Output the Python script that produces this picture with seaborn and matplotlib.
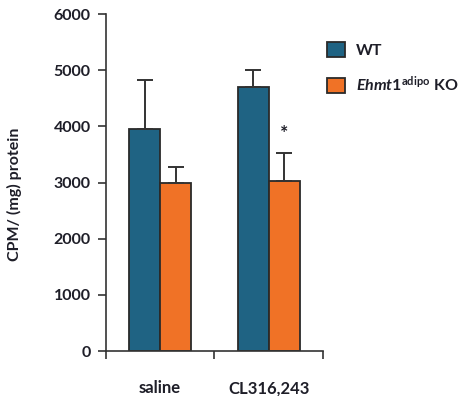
import matplotlib
matplotlib.use("Agg")
import matplotlib.pyplot as plt
from matplotlib.patches import Patch
import pandas as pd
import seaborn as sns

# Dữ liệu
treatments = ["saline", "CL316,243"]
genotypes = ["WT", "KO"]
wt_mean = [3950, 4700]
wt_err = [880, 310]
ko_mean = [3000, 3020]
ko_err = [280, 510]
star_value = 3880

COLORS = {"WT": "#1F6383", "KO": "#F07226"}
EDGE = "#2a2a2a"
TEXT = "#1e1e28"

sns.set_theme(style="white")
plt.rcParams.update({
    "font.family": ["Lato", "DejaVu Sans"],
    "font.weight": "bold",
    "mathtext.fontset": "custom",
    "mathtext.it": "Lato:bold:italic",
    "mathtext.rm": "Lato:bold",
    "mathtext.bf": "Lato:bold",
})

df = pd.DataFrame({
    "Treatment": treatments * 2,
    "Genotype": ["WT"] * 2 + ["KO"] * 2,
    "Value": wt_mean + ko_mean,
})

fig = plt.figure(figsize=(4.64, 3.96), dpi=100)
ax = fig.add_axes([0.228, 0.1136, 0.468, 0.851])

sns.barplot(
    data=df, x="Treatment", y="Value", hue="Genotype",
    order=treatments, hue_order=genotypes,
    palette=COLORS, saturation=1, width=0.57, errorbar=None,
    edgecolor=EDGE, linewidth=1.3, legend=False, ax=ax,
)

# Thanh sai số chỉ hướng lên
errs = {"WT": wt_err, "KO": ko_err}
for cont, g in zip(ax.containers, genotypes):
    for bar, e in zip(cont, errs[g]):
        xc = bar.get_x() + bar.get_width() / 2
        h = bar.get_height()
        ax.errorbar(xc, h, yerr=[[0], [e]], fmt="none", ecolor="#333333",
                    elinewidth=1.4, capsize=6, capthick=1.4, zorder=1)

# Dấu sao cho KO ở CL316,243
ko_bar = ax.containers[1][1]
ax.text(ko_bar.get_x() + ko_bar.get_width() / 2, star_value, "*",
        ha="center", va="center", fontsize=14, color=TEXT)

ax.set_xlim(-0.5, 1.5)
ax.set_ylim(0, 6000)
ax.set_yticks(range(0, 6001, 1000))
ax.set_xticks([-0.5, 0.5, 1.5])
ax.set_xticklabels([])
ax.set_xticks([0, 1], minor=True)
ax.set_xticklabels(treatments, minor=True)
ax.tick_params(axis="x", which="major", direction="out", length=6,
               width=1.2, color="#333333", bottom=True)
ax.tick_params(axis="x", which="minor", length=0, pad=21,
               labelsize=12, labelcolor=TEXT)
ax.tick_params(axis="y", direction="out", length=6, width=1.2,
               color="#333333", left=True, labelsize=11.5, labelcolor=TEXT, pad=5)

for side in ["top", "right"]:
    ax.spines[side].set_visible(False)
for side in ["left", "bottom"]:
    ax.spines[side].set_color("#333333")
    ax.spines[side].set_linewidth(1.2)

ax.set_xlabel("")
ax.set_ylabel("CPM/ (mg) protein", fontsize=11.5, fontweight="bold", color=TEXT)
ax.yaxis.set_label_coords(-0.385, 0.466)

handles = [
    Patch(facecolor=COLORS["WT"], edgecolor=EDGE, linewidth=1.3),
    Patch(facecolor=COLORS["KO"], edgecolor=EDGE, linewidth=1.3),
]
labels = ["WT", r"$\mathit{Ehmt1}^{\mathrm{adipo}}$ KO"]
leg = fig.legend(handles, labels, loc="upper left",
                 bbox_to_anchor=(0.674, 0.93), frameon=False,
                 handlelength=1.1, handleheight=1.1, handletextpad=0.7,
                 labelspacing=1.0, prop={"weight": "bold", "size": 11.5})
for t in leg.get_texts():
    t.set_color(TEXT)

fig.savefig("out.png", dpi=100)
